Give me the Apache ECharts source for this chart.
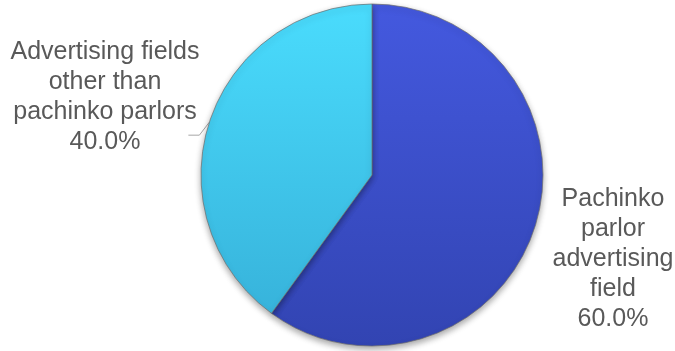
<!DOCTYPE html>
<html>
<head>
<meta charset="utf-8">
<script src="https://cdn.jsdelivr.net/npm/echarts@6/dist/echarts.min.js"></script>
<style>
  html, body { margin: 0; padding: 0; background: #ffffff; }
  #chart { width: 675px; height: 351px; }
</style>
</head>
<body>
<div id="chart"></div>
<script>
// Share of advertising fields
const categories = [
  'Pachinko\nparlor\nadvertising\nfield',
  'Advertising fields\nother than\npachinko parlors'
];
const shares = [60.0, 40.0];

const sliceFills = [
  new echarts.graphic.LinearGradient(0, 0, 0, 1, [
    { offset: 0, color: '#4459df' },
    { offset: 1, color: '#3244b2' }
  ]),
  new echarts.graphic.LinearGradient(0, 0, 0, 1, [
    { offset: 0, color: '#4adcfd' },
    { offset: 1, color: '#37b3db' }
  ])
];

// label block centres (x, y) for each slice
const labelSpots = [[613, 259], [105, 97]];

const chart = echarts.init(document.getElementById('chart'), null, { renderer: 'canvas' });

chart.setOption({
  animation: false,
  backgroundColor: '#ffffff',
  series: [{
    type: 'pie',
    center: [372, 175],
    radius: 171,
    startAngle: 90,
    clockwise: true,
    data: categories.map((name, i) => ({
      name: name,
      value: shares[i],
      itemStyle: { color: sliceFills[i] },
      labelLine: { show: i === 1 }
    })),
    itemStyle: {
      borderColor: 'rgba(110,110,110,0.7)',
      borderWidth: 1,
      shadowBlur: 6,
      shadowOffsetY: 3,
      shadowColor: 'rgba(0,0,0,0.35)'
    },
    label: {
      show: true,
      position: 'outside',
      color: '#595959',
      fontFamily: 'Liberation Sans, Arial, sans-serif',
      fontSize: 25,
      lineHeight: 30,
      align: 'center',
      overflow: 'none',
      formatter: p => p.name + '\n' + p.value.toFixed(1) + '%'
    },
    labelLine: {
      lineStyle: { color: '#a6a6a6', width: 1 },
      length: 10,
      length2: 10
    },
    labelLayout: function (params) {
      const spot = labelSpots[params.dataIndex];
      const out = { x: spot[0], y: spot[1], align: 'center', verticalAlign: 'middle' };
      if (params.dataIndex === 1 && params.labelLinePoints) {
        const a = params.labelLinePoints[0];
        out.labelLinePoints = [a, [a[0] - 10, a[1] + 13], [a[0] - 21, a[1] + 13]];
      }
      return out;
    }
  }]
});
</script>
</body>
</html>
